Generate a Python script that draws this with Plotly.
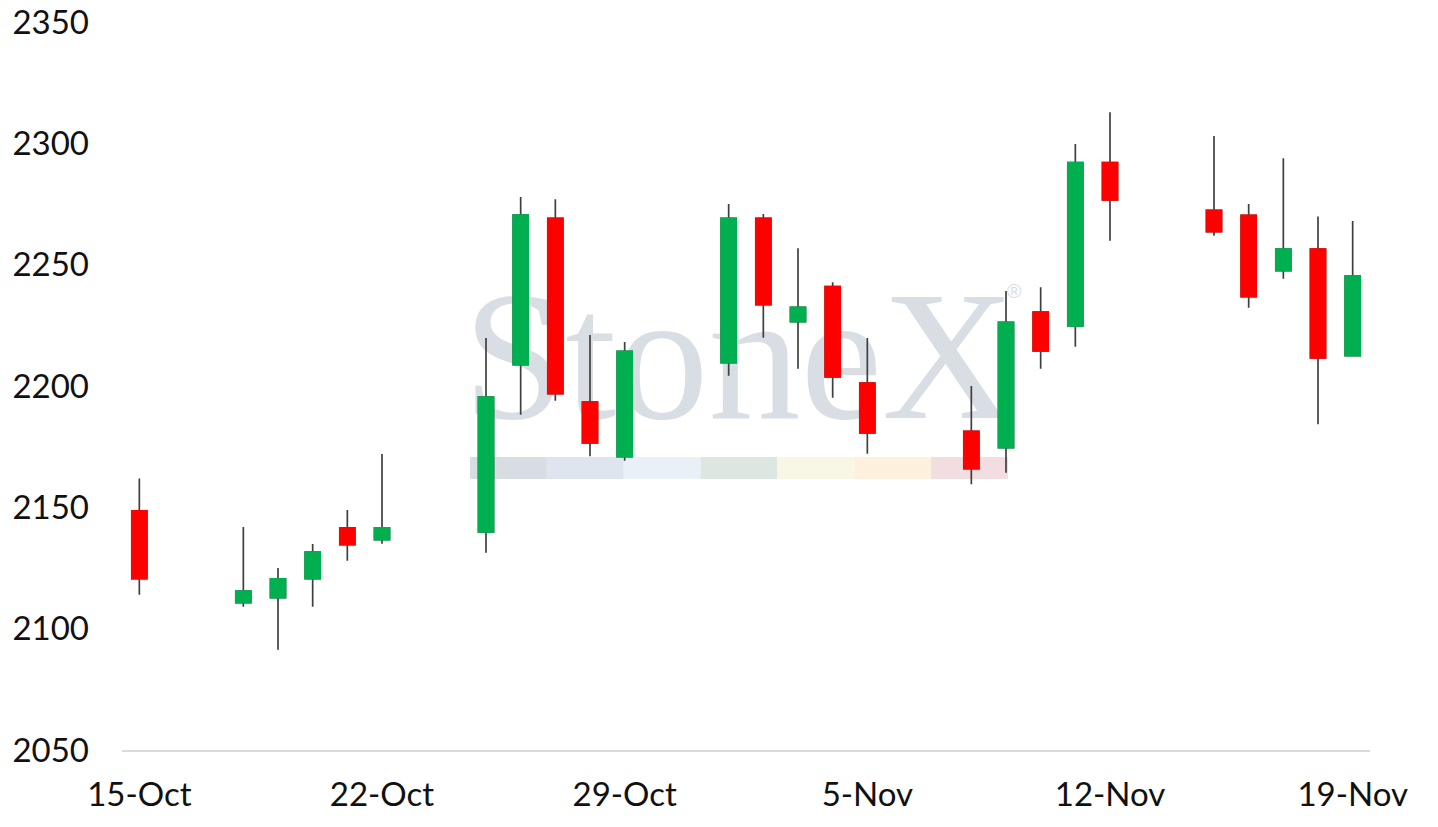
import plotly.graph_objects as go

# daily candles, 15-Oct to 19-Nov 2021 (weekdays only)
dates = ["2021-10-15",
         "2021-10-18", "2021-10-19", "2021-10-20", "2021-10-21", "2021-10-22",
         "2021-10-25", "2021-10-26", "2021-10-27", "2021-10-28", "2021-10-29",
         "2021-11-01", "2021-11-02", "2021-11-03", "2021-11-04", "2021-11-05",
         "2021-11-08", "2021-11-09", "2021-11-10", "2021-11-11", "2021-11-12",
         "2021-11-15", "2021-11-16", "2021-11-17", "2021-11-18", "2021-11-19"]
opens = [2148.5,
         2110.7, 2112.8, 2120.6, 2141.5, 2136.7,
         2139.9, 2208.8, 2269.1, 2193.4, 2170.9,
         2209.6, 2269.1, 2226.5, 2241.0, 2201.2,
         2181.3, 2174.6, 2230.5, 2224.8, 2292.1,
         2272.4, 2270.3, 2247.5, 2256.4, 2212.5]
highs = [2161.9,
         2141.9, 2125.0, 2134.9, 2148.9, 2172.0,
         2219.8, 2277.9, 2277.0, 2221.0, 2218.1,
         2275.0, 2270.9, 2256.8, 2242.8, 2219.8,
         2200.0, 2239.1, 2240.7, 2299.7, 2312.8,
         2303.0, 2275.0, 2293.9, 2269.9, 2268.0]
lows = [2114.0,
        2109.0, 2091.3, 2109.0, 2128.0, 2135.0,
        2131.3, 2188.2, 2193.9, 2171.1, 2169.2,
        2204.2, 2219.9, 2207.1, 2195.2, 2172.1,
        2159.5, 2164.3, 2207.1, 2216.2, 2259.9,
        2261.9, 2232.2, 2244.2, 2184.2, 2212.5]
closes = [2120.6,
          2115.5, 2120.5, 2131.6, 2134.6, 2141.5,
          2195.4, 2270.4, 2196.8, 2176.6, 2214.3,
          2269.1, 2233.5, 2232.4, 2203.8, 2180.7,
          2165.9, 2226.2, 2214.5, 2292.1, 2276.7,
          2263.6, 2236.8, 2256.4, 2211.6, 2245.3]

y_ticks = [2050, 2100, 2150, 2200, 2250, 2300, 2350]

green = "#00b050"
red = "#ff0000"
wick = "#404040"

# bodies only (no wicks) so the wick colour can differ from the body colour
body_hi = [max(o, c) for o, c in zip(opens, closes)]
body_lo = [min(o, c) for o, c in zip(opens, closes)]

fig = go.Figure()
fig.add_trace(go.Candlestick(
    x=dates, open=opens, high=highs, low=lows, close=closes,
    increasing=dict(line=dict(color=wick, width=1.7), fillcolor=wick),
    decreasing=dict(line=dict(color=wick, width=1.7), fillcolor=wick),
    whiskerwidth=0, hoverinfo="skip", showlegend=False))
fig.add_trace(go.Candlestick(
    x=dates, open=opens, high=body_hi, low=body_lo, close=closes,
    increasing=dict(line=dict(color=green, width=1.7), fillcolor=green),
    decreasing=dict(line=dict(color=red, width=1.7), fillcolor=red),
    whiskerwidth=0, showlegend=False))

# StoneX watermark behind the candles (positions in page pixels -> paper)
L, W, H = 122, 1248, 728
def px(v):
    return (v - L) / W
def py(v):
    return (750 - v) / H

fig.add_shape(type="rect", xref="paper", yref="paper", layer="below",
              x0=px(439), x1=px(1039), y0=py(411), y1=py(261),
              line=dict(width=0), fillcolor="rgba(0,0,0,0)",
              label=dict(text="StoneX", textposition="middle center",
                         font=dict(family="Liberation Serif", size=184, color="#d9dee5")))
fig.add_shape(type="rect", xref="paper", yref="paper", layer="below",
              x0=px(1002), x1=px(1026), y0=py(300), y1=py(278),
              line=dict(width=0), fillcolor="rgba(0,0,0,0)",
              label=dict(text="®", textposition="middle center",
                         font=dict(family="Liberation Sans", size=20, color="#d9dee5")))
band = ["#d8dde3", "#dfe5ee", "#e9f0f8", "#dde7e2", "#f8f6e4", "#fdf1de", "#f2dde0"]
seg = (1008 - 470) / len(band)
for i, c in enumerate(band):
    fig.add_shape(type="rect", xref="paper", yref="paper", layer="below",
                  x0=px(470 + i * seg), x1=px(470 + (i + 1) * seg),
                  y0=py(479), y1=py(457), line=dict(width=0), fillcolor=c)

font = dict(family="Lato, Noto Sans, sans-serif", size=33, color="#111111")
fig.update_layout(
    width=1438, height=827,
    margin=dict(l=122, r=68, t=22, b=77),
    paper_bgcolor="white", plot_bgcolor="white",
    font=font, boxgap=0.38,
    xaxis=dict(type="date", range=["2021-10-14 12:00", "2021-11-19 12:00"],
               tick0="2021-10-15", dtick=7 * 86400000, tickformat="%-d-%b",
               showgrid=False, zeroline=False, showline=True,
               linecolor="#d9d9d9", linewidth=1.5, ticks="",
               rangeslider=dict(visible=False), tickfont=font,
               ticklabelstandoff=15, automargin=False,
               ticklabeloverflow="allow"),
    yaxis=dict(range=[2050, 2350], tickvals=y_ticks, showgrid=False,
               zeroline=False, showline=False, ticks="", tickfont=font,
               ticklabelstandoff=32, automargin=False,
               ticklabeloverflow="allow"),
)

# drop the page's default 8px body margin so the figure fills the window
fig.write_html("out.html", config={"displayModeBar": False},
               post_script="document.body.style.margin='0';")
